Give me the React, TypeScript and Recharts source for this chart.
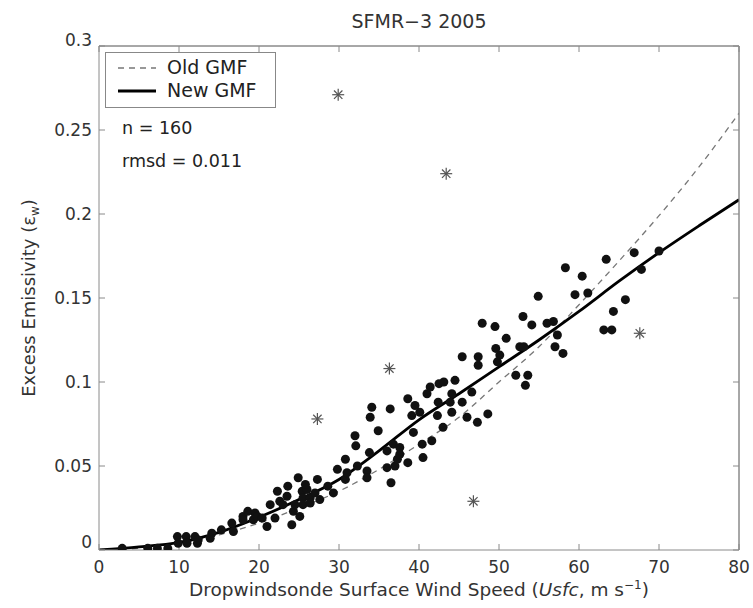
import {
  ComposedChart,
  Scatter,
  Line,
  XAxis,
  YAxis,
  ReferenceLine,
} from "recharts";

// dropwindsonde matches (wind speed m/s, excess emissivity)
const dotWind = [
  2.9, 6.1, 7.3, 8.6, 9.8, 9.9, 10.9, 11.0, 12.0, 12.3, 12.4, 14.1, 13.9, 16.6, 16.8, 18.0,
  18.0, 19.3, 19.5, 19.8, 20.4, 21.0, 22.0, 22.3, 22.6, 23.0, 23.6, 24.1, 24.3, 24.9, 25.4,
  25.5, 25.5, 25.1, 26.0, 26.4, 26.4, 27.3, 27.6, 28.6, 29.3, 29.8, 30.8, 31.0, 32.0, 32.1,
  32.3, 33.5, 33.5, 33.8, 33.9, 34.1, 34.9, 36.4, 36.5, 36.8, 37.0, 37.6, 38.6, 38.6, 30.8,
  36.0, 37.6, 37.3, 36.0, 39.1, 39.3, 40.1, 40.4, 40.5, 41.0, 41.4, 42.5, 43.1, 42.4, 44.1,
  43.9, 44.1, 45.4, 45.4, 46.6, 47.4, 47.4, 47.9, 48.6, 49.5, 49.8, 49.6, 50.9, 52.1, 52.6,
  53.1, 53.0, 53.6, 53.3, 54.1, 54.9, 56.0, 56.8, 57.3, 57.0, 58.0, 58.3, 59.5, 60.4, 61.1,
  63.1, 64.1, 64.3, 65.8, 63.4, 66.9, 67.8, 70.0, 46.0, 47.3, 43.0, 41.6, 42.3, 15.3, 21.4,
  23.5, 24.5, 25.8, 27.0, 18.6, 39.5, 44.5, 50.1,
];
const dotEmis = [
  0.001, 0.001, 0.001, 0.001, 0.008, 0.004, 0.008, 0.004, 0.008, 0.004, 0.006, 0.01, 0.007,
  0.016, 0.011, 0.02, 0.018, 0.018, 0.022, 0.02, 0.019, 0.014, 0.019, 0.035, 0.029, 0.027,
  0.038, 0.015, 0.023, 0.043, 0.035, 0.031, 0.027, 0.02, 0.036, 0.031, 0.028, 0.042, 0.03,
  0.038, 0.034, 0.048, 0.042, 0.046, 0.068, 0.062, 0.05, 0.047, 0.043, 0.058, 0.079, 0.085,
  0.071, 0.084, 0.04, 0.063, 0.05, 0.061, 0.09, 0.052, 0.054, 0.059, 0.057, 0.054, 0.049,
  0.08, 0.07, 0.082, 0.063, 0.055, 0.093, 0.097, 0.099, 0.1, 0.088, 0.093, 0.088, 0.082,
  0.115, 0.088, 0.094, 0.115, 0.11, 0.135, 0.081, 0.133, 0.112, 0.12, 0.126, 0.104, 0.121,
  0.121, 0.139, 0.104, 0.098, 0.134, 0.151, 0.135, 0.136, 0.128, 0.121, 0.117, 0.168, 0.152,
  0.163, 0.153, 0.131, 0.131, 0.142, 0.149, 0.173, 0.177, 0.167, 0.178, 0.079, 0.076, 0.073,
  0.065, 0.08, 0.012, 0.027, 0.032, 0.027, 0.039, 0.034, 0.023, 0.086, 0.101, 0.116,
];

// rejected outliers (asterisks)
const starWind = [29.9, 43.4, 27.3, 36.3, 67.6, 46.8];
const starEmis = [0.271, 0.224, 0.078, 0.108, 0.129, 0.029];

// GMF curves
const gmfWind = [0, 5, 10, 15, 20, 25, 30, 35, 40, 45, 50, 55, 60, 65, 70, 75, 80];
const oldGmf = [0, 0.001, 0.004, 0.009, 0.016, 0.025, 0.035, 0.048, 0.063, 0.079, 0.1, 0.121, 0.146, 0.172, 0.199, 0.228, 0.26];
const newGmf = [0, 0.0018, 0.0045, 0.0105, 0.0195, 0.03, 0.042, 0.059, 0.0775, 0.093, 0.109, 0.125, 0.142, 0.16, 0.177, 0.193, 0.2085];

const xTicks = [0, 10, 20, 30, 40, 50, 60, 70, 80];
const yTicks = [0, 0.05, 0.1, 0.15, 0.2, 0.25, 0.3];

const dots = dotWind.map((x, i) => ({ x, y: dotEmis[i] }));
const stars = starWind.map((x, i) => ({ x, y: starEmis[i] }));
const oldData = gmfWind.map((x, i) => ({ x, y: oldGmf[i] }));
const newData = gmfWind.map((x, i) => ({ x, y: newGmf[i] }));

const FONT = "'DejaVu Sans', sans-serif";
const AXIS = "#8a8a8a";

const Dot = (props: any) => <circle cx={props.cx} cy={props.cy} r={4.5} fill="#111" />;

const Star = (props: any) => {
  const { cx, cy } = props;
  const r = 6;
  const d = r * 0.7;
  return (
    <g stroke="#555" strokeWidth={1.2}>
      <line x1={cx - r} y1={cy} x2={cx + r} y2={cy} />
      <line x1={cx} y1={cy - r} x2={cx} y2={cy + r} />
      <line x1={cx - d} y1={cy - d} x2={cx + d} y2={cy + d} />
      <line x1={cx - d} y1={cy + d} x2={cx + d} y2={cy - d} />
    </g>
  );
};

// matlab nudges the end labels inside the axis range
const YTick = (props: any) => {
  const { x, y, payload } = props;
  const v = payload.value;
  const shift = v === 0 ? -8 : v === 0.3 ? -6 : 0;
  return (
    <text x={x} y={y + shift} dy="0.36em" textAnchor="end" fontSize={17} fill="#333" fontFamily={FONT}>
      {String(+v.toFixed(2))}
    </text>
  );
};

export default function App() {
  const tickStyle = { fontSize: 17, fill: "#333", fontFamily: FONT };
  return (
    <div style={{ position: "absolute", left: 0, top: 0, width: 753, height: 608, background: "#fff", fontFamily: FONT }}>
      <ComposedChart width={753} height={608} margin={{ top: 45, right: 13, bottom: 18, left: 39 }}>
        <XAxis
          dataKey="x"
          type="number"
          domain={[0, 80]}
          ticks={xTicks}
          height={40}
          stroke={AXIS}
          tickSize={-6}
          tickMargin={17}
          tick={tickStyle}
          allowDataOverflow
        />
        <XAxis
          xAxisId="top"
          dataKey="x"
          orientation="top"
          type="number"
          domain={[0, 80]}
          ticks={xTicks}
          height={1}
          stroke={AXIS}
          tickSize={-6}
          tickFormatter={() => ""}
          allowDataOverflow
        />
        <YAxis
          type="number"
          domain={[0, 0.3]}
          ticks={yTicks}
          width={60}
          stroke={AXIS}
          tickSize={-6}
          tickMargin={13}
          tick={<YTick />}
          allowDataOverflow
        />
        <YAxis
          yAxisId="right"
          orientation="right"
          type="number"
          domain={[0, 0.3]}
          ticks={yTicks}
          width={1}
          stroke={AXIS}
          tickSize={-6}
          tickFormatter={() => ""}
          allowDataOverflow
        />
        {/* invisible series so the top and right frame axes get drawn */}
        <Line
          data={newData}
          dataKey="y"
          xAxisId="top"
          yAxisId="right"
          stroke="none"
          dot={false}
          isAnimationActive={false}
        />
        <ReferenceLine y={0.3} stroke={AXIS} ifOverflow="extendDomain" />
        <ReferenceLine x={80} stroke={AXIS} ifOverflow="extendDomain" />
        <Scatter data={dots} dataKey="y" shape={Dot} isAnimationActive={false} />
        <Line
          data={oldData}
          dataKey="y"
          type="monotone"
          stroke="#777"
          strokeWidth={1.3}
          strokeDasharray="6 5"
          dot={false}
          isAnimationActive={false}
        />
        <Line
          data={newData}
          dataKey="y"
          type="monotone"
          stroke="#000"
          strokeWidth={2.8}
          dot={false}
          isAnimationActive={false}
        />
        <Scatter data={stars} dataKey="y" shape={Star} isAnimationActive={false} />
      </ComposedChart>

      {/* title */}
      <div style={{ position: "absolute", left: 0, width: 838, top: 10, textAlign: "center", fontSize: 19, color: "#333" }}>
        SFMR−3 2005
      </div>

      {/* legend */}
      <div
        style={{
          position: "absolute",
          left: 105,
          top: 52,
          width: 169,
          height: 54,
          border: "1px solid #888",
          background: "#fff",
          fontSize: 19,
          color: "#222",
        }}
      >
        <svg width={60} height={54} style={{ position: "absolute", left: 0, top: 0 }}>
          <line x1={12} y1={15} x2={50} y2={15} stroke="#777" strokeWidth={1.3} strokeDasharray="6 5" />
          <line x1={12} y1={38} x2={50} y2={38} stroke="#000" strokeWidth={2.8} />
        </svg>
        <div style={{ position: "absolute", left: 61, top: 3, lineHeight: "23px" }}>Old GMF</div>
        <div style={{ position: "absolute", left: 61, top: 26, lineHeight: "23px" }}>New GMF</div>
      </div>

      <div style={{ position: "absolute", left: 122, top: 118, fontSize: 17.5, color: "#222" }}>n = 160</div>
      <div style={{ position: "absolute", left: 122, top: 151, fontSize: 17.5, color: "#222" }}>rmsd = 0.011</div>

      {/* axis labels */}
      <div style={{ position: "absolute", left: 0, width: 838, top: 578, textAlign: "center", fontSize: 18.5, color: "#333", whiteSpace: "nowrap" }}>
        Dropwindsonde Surface Wind Speed (<i>Usfc</i>, m s<sup style={{ fontSize: 12 }}>−1</sup>)
      </div>
      <div
        style={{
          position: "absolute",
          left: 30,
          top: 298,
          transform: "translate(-50%, -50%) rotate(-90deg)",
          fontSize: 18,
          color: "#333",
          whiteSpace: "nowrap",
        }}
      >
        Excess Emissivity (ε<sub style={{ fontSize: 12 }}>w</sub>)
      </div>
    </div>
  );
}
